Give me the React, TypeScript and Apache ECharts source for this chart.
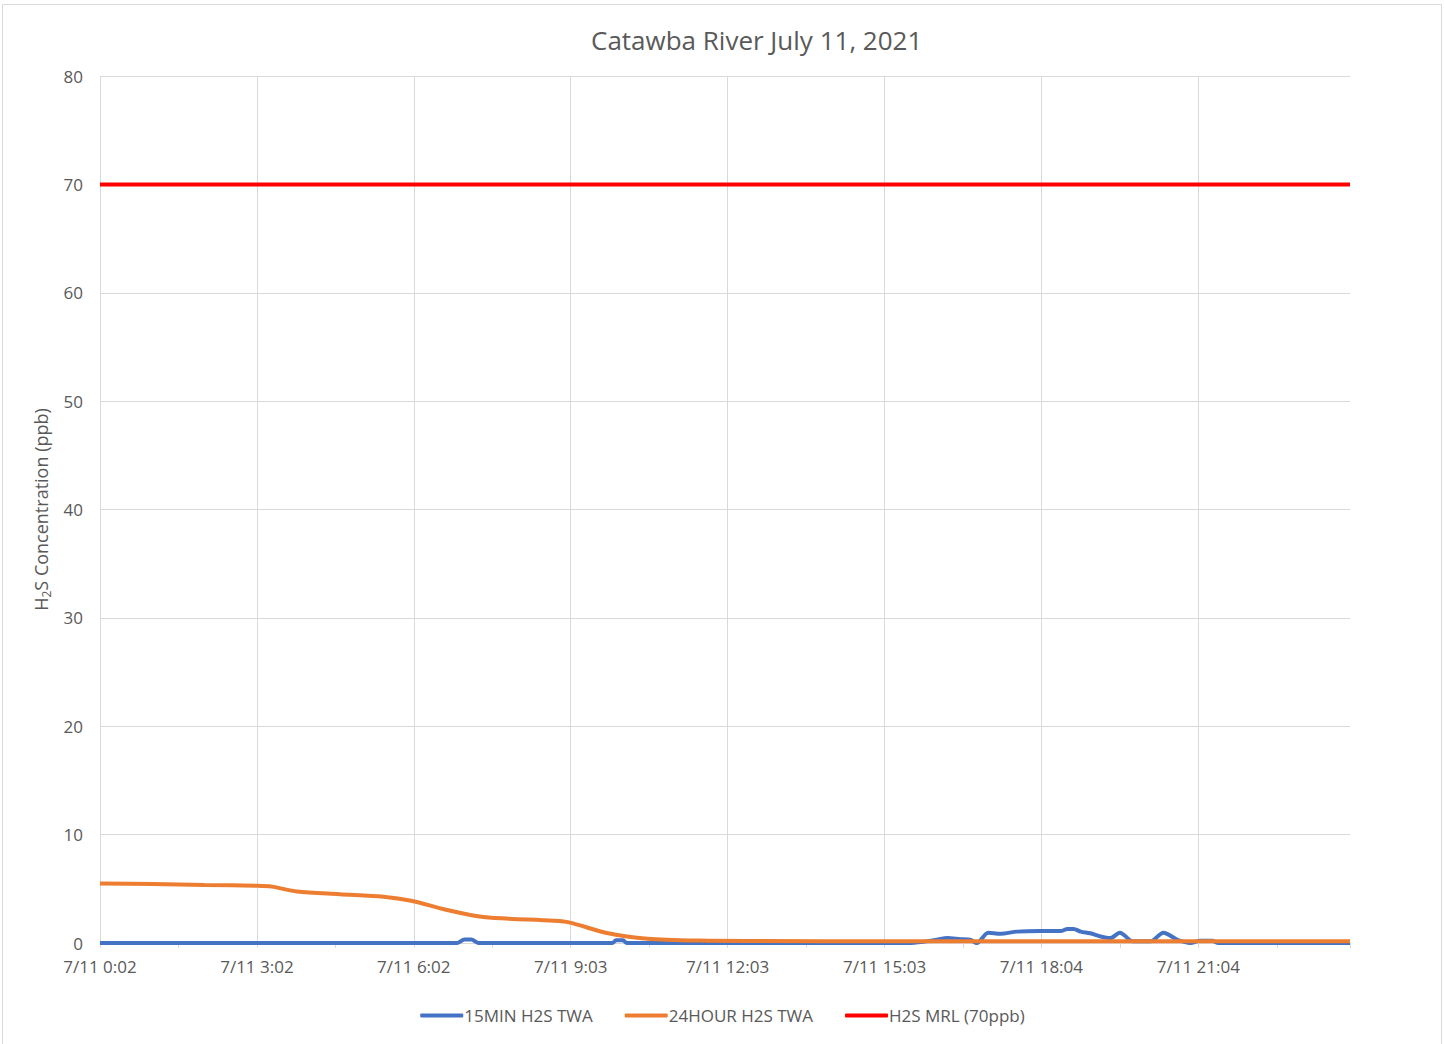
import React, { useEffect, useRef } from "react";
import * as echarts from "echarts";

// x values are minutes after 7/11 0:02
const tickLabels = ["7/11 0:02", "7/11 3:02", "7/11 6:02", "7/11 9:03", "7/11 12:03", "7/11 15:03", "7/11 18:04", "7/11 21:04"];
const xMaxMinutes = 1434;

const min15Minutes = [0, 410, 418, 426, 434, 588, 592, 600, 604, 930, 960, 972, 987, 998, 1006, 1019, 1033, 1052, 1079, 1102, 1110, 1117, 1125, 1136, 1148, 1159, 1170, 1185, 1205, 1220, 1236, 1251, 1262, 1276, 1283, 1434];
const min15Values = [0, 0, 0.32, 0.32, 0, 0, 0.25, 0.25, 0, 0, 0.3, 0.45, 0.35, 0.3, 0, 0.95, 0.85, 1.05, 1.1, 1.1, 1.3, 1.3, 1.05, 0.9, 0.6, 0.45, 0.95, 0.15, 0.15, 0.95, 0.3, 0, 0.2, 0.2, 0, 0];

const hour24Minutes = [0, 60, 120, 181, 197, 226, 275, 325, 357, 398, 440, 521, 538, 583, 628, 688, 757, 900, 1434];
const hour24Values = [5.5, 5.45, 5.35, 5.28, 5.2, 4.75, 4.5, 4.27, 3.9, 3.05, 2.4, 2.05, 1.9, 0.9, 0.4, 0.22, 0.18, 0.15, 0.15];

const mrlMinutes = [0, 1434];
const mrlValues = [70, 70];

const seriesNames = ["15MIN H2S TWA", "24HOUR H2S TWA", "H2S MRL (70ppb)"];
const seriesColors = ["#4472c4", "#ed7d31", "#ff0000"];

const FONT = "'Open Sans', sans-serif";
const TXT = "#595959";
const GRID = "#d9d9d9";

function pairs(xs: number[], ys: number[]) {
  return xs.map((x, i) => [x, ys[i]]);
}

export default function App() {
  const ref = useRef<HTMLDivElement>(null);
  useEffect(() => {
    if (!ref.current) return;
    const chart = echarts.init(ref.current, null, { renderer: "svg" });
    chart.setOption({
      animation: false,
      backgroundColor: "#ffffff",
      title: {
        text: "Catawba River July 11, 2021",
        left: 586,
        top: 22,
        textStyle: { fontFamily: FONT, fontSize: 26, fontWeight: "normal", color: TXT },
      },
      graphic: [
        {
          type: "rect",
          shape: { x: 2.5, y: 4.5, width: 1439, height: 1060 },
          style: { fill: "none", stroke: GRID, lineWidth: 1 },
          silent: true,
          z: -1,
        },
      ],
      legend: {
        bottom: 15,
        left: "center",
        icon: "roundRect",
        itemWidth: 43,
        itemHeight: 4,
        itemGap: 32,
        textStyle: { fontFamily: FONT, fontSize: 17, color: TXT, padding: [0, 0, 0, -4] },
        data: seriesNames,
      },
      grid: { left: 100, right: 95, top: 76, bottom: 101, containLabel: false },
      xAxis: {
        type: "value",
        min: 0,
        max: xMaxMinutes,
        interval: 180,
        axisLine: { show: true, lineStyle: { color: GRID, width: 1 } },
        axisTick: { show: true, length: 5, lineStyle: { color: GRID } },
        minorTick: { show: true, splitNumber: 2, length: 5, lineStyle: { color: GRID } },
        splitLine: { show: true, showMaxLine: false, lineStyle: { color: GRID, width: 1 } },
        axisLabel: {
          showMaxLabel: false,
          margin: 15,
          fontFamily: FONT,
          fontSize: 17,
          color: TXT,
          formatter: (v: number) => {
            const i = Math.round(v / 180);
            return Math.abs(v - i * 180) < 0.01 && i < tickLabels.length ? tickLabels[i] : "";
          },
        },
      },
      yAxis: {
        type: "value",
        min: 0,
        max: 80,
        interval: 10,
        axisLine: { show: false },
        axisTick: { show: false },
        splitLine: { show: true, lineStyle: { color: GRID, width: 1 } },
        axisLabel: { margin: 17, fontFamily: FONT, fontSize: 17, color: TXT },
        name: "{a|H}{sub|2}{a|S Concentration (ppb)}",
        nameLocation: "middle",
        nameRotate: 90,
        nameGap: 43,
        nameTextStyle: {
          fontFamily: FONT,
          fontSize: 18,
          color: TXT,
          rich: {
            a: { fontFamily: FONT, fontSize: 18, color: TXT, lineHeight: 24 },
            sub: { fontFamily: FONT, fontSize: 12, color: TXT, lineHeight: 13, verticalAlign: "bottom" },
          },
        },
      },
      series: [
        {
          name: seriesNames[0],
          type: "line",
          data: pairs(min15Minutes, min15Values),
          showSymbol: false,
          smooth: 0.3,
          lineStyle: { color: seriesColors[0], width: 4 },
          itemStyle: { color: seriesColors[0] },
          z: 2,
        },
        {
          name: seriesNames[1],
          type: "line",
          data: pairs(hour24Minutes, hour24Values),
          showSymbol: false,
          smooth: 0.3,
          lineStyle: { color: seriesColors[1], width: 4 },
          itemStyle: { color: seriesColors[1] },
          z: 3,
        },
        {
          name: seriesNames[2],
          type: "line",
          data: pairs(mrlMinutes, mrlValues),
          showSymbol: false,
          lineStyle: { color: seriesColors[2], width: 4 },
          itemStyle: { color: seriesColors[2] },
          z: 4,
        },
      ],
    });
    return () => chart.dispose();
  }, []);
  return (
    <div
      ref={ref}
      style={{ position: "absolute", left: 0, top: 0, width: 1445, height: 1044, background: "#fff" }}
    />
  );
}
